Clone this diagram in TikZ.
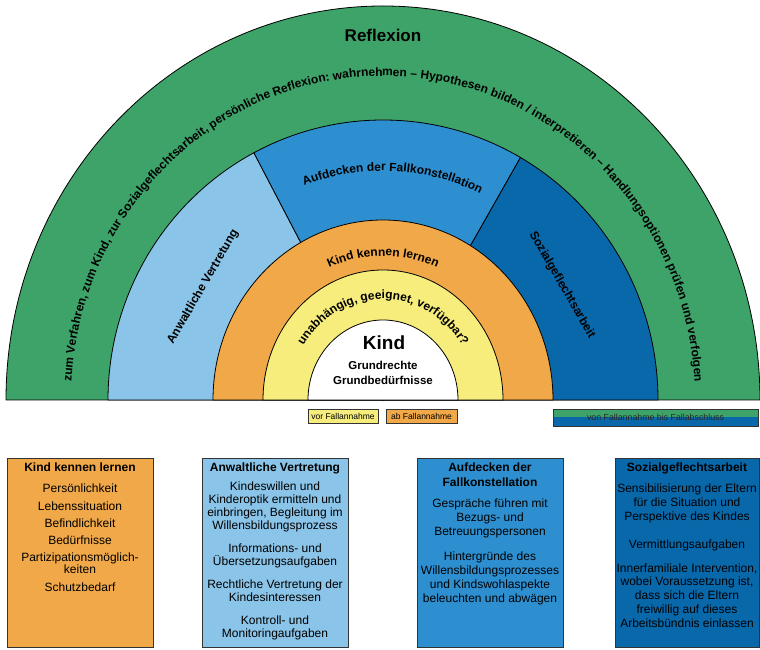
\documentclass[tikz,border=0pt]{standalone}
\usepackage{fontspec}
\setmainfont{Liberation Sans}
\usetikzlibrary{decorations.text}
\definecolor{cgreen}{HTML}{3EA369}
\definecolor{clblue}{HTML}{8AC4E8}
\definecolor{cmblue}{HTML}{2E8FD0}
\definecolor{cdblue}{HTML}{0868AA}
\definecolor{corange}{HTML}{F1A848}
\definecolor{cyellow}{HTML}{F6ED7D}
\begin{document}
\begin{tikzpicture}[x=1pt,y=1pt,
  ring/.style={draw=black,line width=0.8pt},
  legbox/.style={draw=black!80,line width=0.7pt,inner sep=0pt,minimum height=14,font=\fontsize{8.5}{10}\selectfont},
  bigbox/.style={draw=black!80,line width=0.8pt,inner sep=0pt,minimum height=189,anchor=south west},
  btext/.style={align=center,inner sep=0pt,anchor=north,font=\fontsize{12}{13.5}\selectfont},
  tangtext/.style={font=\fontsize{12}{14}\selectfont\bfseries,inner sep=0pt}]
\useasboundingbox (0,0) rectangle (760,650);
\coordinate (C) at (383,250);
% rings
\filldraw[fill=cgreen,ring] (C) ++(-377,0) arc[start angle=180,end angle=0,x radius=377,y radius=394] -- cycle;
\filldraw[fill=clblue,ring] (C) -- ++(-275,0) arc[start angle=180,end angle=118,x radius=275,y radius=280] -- cycle;
\filldraw[fill=cmblue,ring] (C) -- ++(118:275 and 280) arc[start angle=118,end angle=60,x radius=275,y radius=280] -- cycle;
\filldraw[fill=cdblue,ring] (C) -- ++(60:275 and 280) arc[start angle=60,end angle=0,x radius=275,y radius=280] -- cycle;
\filldraw[fill=corange,ring] (C) ++(-170,0) arc[start angle=180,end angle=0,x radius=170,y radius=180] -- cycle;
\filldraw[fill=cyellow,ring] (C) ++(-120,0) arc[start angle=180,end angle=0,x radius=120,y radius=130] -- cycle;
\filldraw[fill=white,ring] (C) ++(-75,0) arc[start angle=180,end angle=0,x radius=75,y radius=80] -- cycle;
% curved texts
\path[decorate,decoration={text along path,text align=center,
  text={|\fontsize{12}{14}\selectfont\bfseries|zum Verfahren, zum Kind, zur Sozialgeflechtsarbeit, persönliche Reflexion: wahrnehmen – Hypothesen bilden / interpretieren – Handlungsoptionen prüfen und verfolgen}}]
  (C) ++(-312,0) arc[start angle=180,end angle=0,x radius=312,y radius=324];
\path[decorate,decoration={text along path,text align=center,
  text={|\fontsize{12}{14}\selectfont\bfseries|Aufdecken der Fallkonstellation}}]
  (C) ++(177.5:222 and 229) arc[start angle=177.5,end angle=-2.5,x radius=222,y radius=229];
\path[decorate,decoration={text along path,text align=center,
  text={|\fontsize{12}{14}\selectfont\bfseries|Kind kennen lernen}}]
  (C) ++(-136,0) arc[start angle=180,end angle=0,x radius=136,y radius=144];
\path[decorate,decoration={text along path,text align=center,
  text={|\fontsize{12}{14}\selectfont\bfseries|unabhängig, geeignet, verfügbar?}}]
  (C) ++(-94,0) arc[start angle=180,end angle=0,x radius=94,y radius=101];
% straight texts
\node[font=\fontsize{17}{20}\selectfont\bfseries] (refl) at (383,615) {Reflexion};
\node[tangtext,rotate=60] (anw) at (203,363) {Anwaltliche Vertretung};
\node[tangtext,rotate=-60] (soz) at (562,365) {Sozialgeflechtsarbeit};
\node[font=\fontsize{19}{22}\selectfont\bfseries] (kind) at (384,307) {Kind};
\node[font=\fontsize{11.5}{13}\selectfont\bfseries] (gr1) at (383,285) {Grundrechte};
\node[font=\fontsize{11.5}{13}\selectfont\bfseries] (gr2) at (383,270) {Grundbedürfnisse};
% legend
\node[legbox,fill=cyellow,minimum width=70] (lg1) at (343,234) {vor Fallannahme};
\node[legbox,fill=corange,minimum width=71] (lg2) at (421.5,234) {ab Fallannahme};
\fill[cgreen] (553,232.5) rectangle (758,241);
\fill[cdblue] (553,224) rectangle (758,232.5);
\node[draw=black!80,line width=0.7pt,inner sep=0pt,minimum width=205,minimum height=17,font=\fontsize{8.8}{10}\selectfont,text=black!85] (lg3) at (655.5,232.5) {von Fallannahme bis Fallabschluss};
% boxes
\node[bigbox,fill=corange,minimum width=146] (box1) at (7,2) {};
\node[bigbox,fill=clblue,minimum width=146] (box2) at (202,2) {};
\node[bigbox,fill=cmblue,minimum width=146] (box3) at (417,2) {};
\node[bigbox,fill=cdblue,minimum width=144] (box4) at (615,2) {};
\node[btext] (t1) at (80,187) {\textbf{Kind kennen lernen}\\[7.5pt]
  Persönlichkeit\\[4.5pt] Lebenssituation\\[3.5pt] Befindlichkeit\\[3.5pt] Bedürfnisse\\[3.5pt]
  Partizipationsmöglich-\\[-1.5pt] keiten\\[4.5pt] Schutzbedarf};
\node[btext] (t2) at (275,187) {\textbf{Anwaltliche Vertretung}\\[5.5pt]
  Kindeswillen und\\[-0.5pt] Kinderoptik ermitteln und\\[-0.5pt] einbringen, Begleitung im\\[-0.5pt] Willensbildungsprozess\\[9.5pt]
  Informations- und\\[-0.5pt] Übersetzungsaufgaben\\[9.5pt]
  Rechtliche Vertretung der\\[-0.5pt] Kindesinteressen\\[9.5pt]
  Kontroll- und\\[-0.5pt] Monitoringaufgaben};
\node[btext] (t3) at (490,187) {\textbf{Aufdecken der}\\[1.5pt] \textbf{Fallkonstellation}\\[7.5pt]
  Gespräche führen mit\\[0.5pt] Bezugs- und\\[0.5pt] Betreuungspersonen\\[11.5pt]
  Hintergründe des\\[0.5pt] Willensbildungsprozesses\\[0.5pt] und Kindswohlaspekte\\[0pt] beleuchten und abwägen};
\node[btext] (t4) at (687,187) {\textbf{Sozialgeflechtsarbeit}\\[7.5pt]
  Sensibilisierung der Eltern\\[0pt] für die Situation und\\[0.5pt] Perspektive des Kindes\\[14.5pt]
  Vermittlungsaufgaben\\[10.5pt]
  Innerfamiliale Intervention,\\[0pt] wobei Voraussetzung ist,\\[0.5pt] dass sich die Eltern\\[0.5pt] freiwillig auf dieses\\[0pt] Arbeitsbündnis einlassen};
\end{tikzpicture}
\end{document}
